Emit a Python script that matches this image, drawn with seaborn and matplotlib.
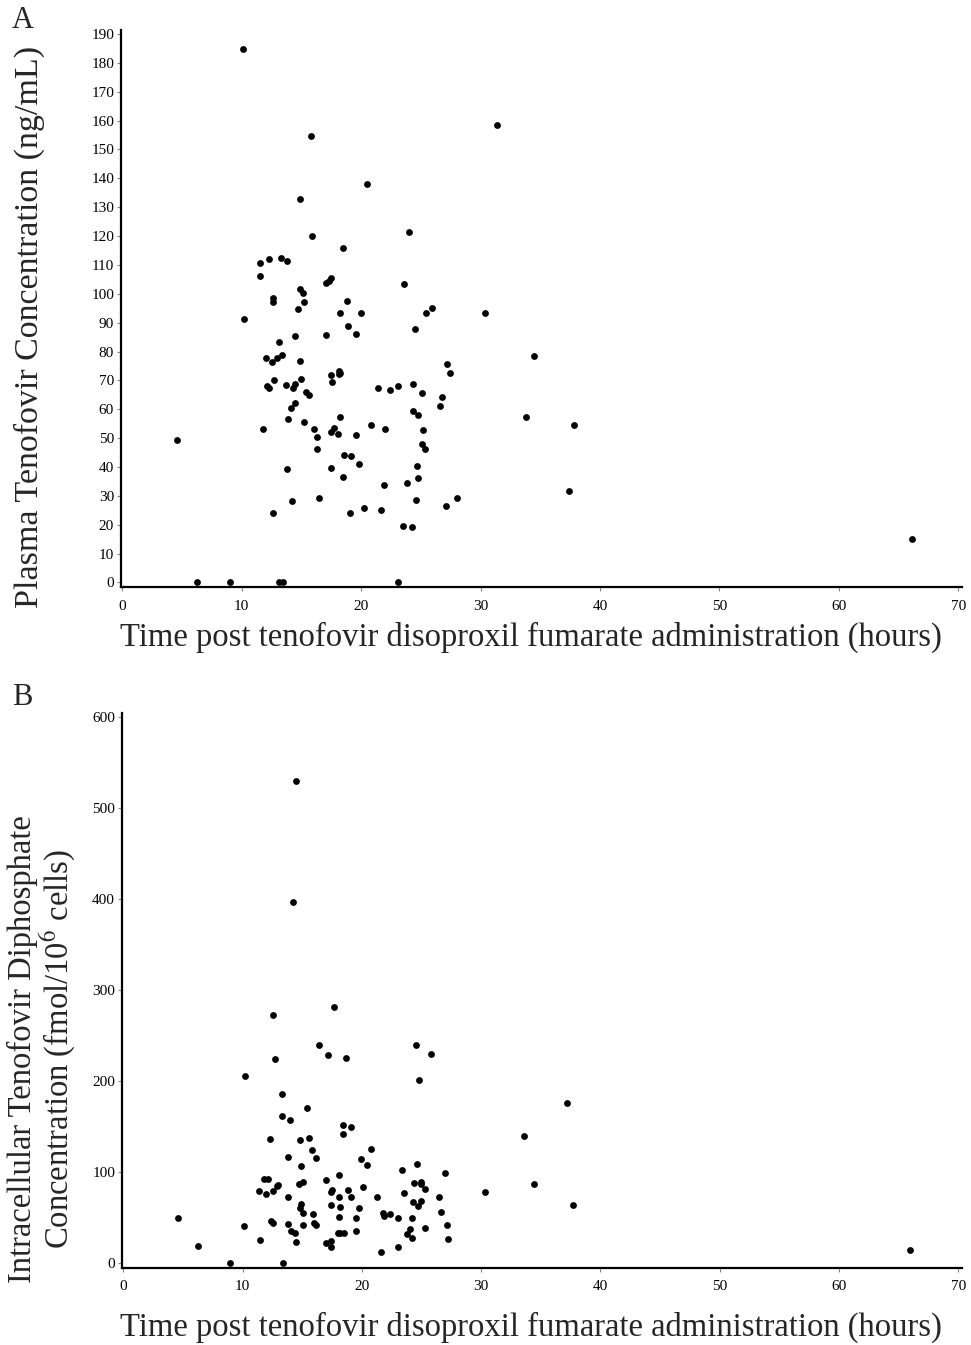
import numpy as np
import pandas as pd
import matplotlib
matplotlib.use("Agg")
import matplotlib.pyplot as plt
import seaborn as sns

# Panel A: plasma tenofovir concentration (ng/mL) vs time (h)
time_a = [10.1, 15.8, 31.4, 20.5, 14.85, 24.0, 15.9, 18.45, 11.5, 12.3, 13.3, 13.8,
          11.56, 17.1, 17.3, 17.5, 23.6, 14.85, 15.1, 18.8, 12.6, 12.6, 15.2, 14.7,
          10.2, 18.2, 20.0, 18.9, 17.1, 19.6, 14.5, 24.5, 13.1, 12.0, 12.95, 13.35,
          12.5, 14.85, 12.7, 12.1, 12.3, 13.7, 14.3, 14.5, 15.0, 15.4, 15.6, 17.5,
          17.6, 18.15, 18.2, 18.15, 21.4, 22.4, 23.1, 24.35, 14.1, 14.5, 24.35, 24.8,
          13.9, 15.2, 11.8, 18.2, 20.8, 16.05, 16.3, 17.45, 17.7, 18.05, 19.6, 22.0,
          4.6, 16.3, 18.6, 19.15, 19.85, 13.8, 17.45, 18.45, 21.9, 23.8, 24.7, 24.8,
          14.2, 16.5, 24.6, 12.6, 19.1, 20.2, 21.7, 23.5, 24.3,
          6.3, 9.0, 13.1, 13.45, 23.1,
          25.4, 25.9, 30.4, 34.5, 27.2, 27.4, 25.1, 26.75, 26.6, 33.8, 37.8, 25.15,
          25.1, 25.35, 37.4, 28.05, 27.1, 66.1]
conc_a = [184.9, 154.6, 158.5, 138.2, 133.0, 121.4, 120.0, 115.7, 110.6, 112.2, 112.4, 111.3,
          106.0, 103.6, 104.4, 105.3, 103.3, 101.5, 100.3, 97.4, 98.6, 97.1, 97.2, 94.8,
          91.1, 93.5, 93.3, 88.9, 85.8, 85.9, 85.4, 87.7, 83.2, 77.9, 77.9, 78.8,
          76.3, 76.7, 70.0, 68.1, 67.4, 68.4, 67.2, 68.9, 70.4, 65.9, 64.9, 71.8,
          69.5, 73.2, 72.7, 72.1, 67.2, 66.5, 68.2, 68.6, 60.3, 62.1, 59.5, 57.9,
          56.5, 55.7, 53.3, 57.3, 54.7, 53.3, 50.4, 52.0, 53.5, 51.4, 51.2, 53.0,
          49.4, 46.2, 44.1, 43.9, 40.9, 39.2, 39.5, 36.6, 33.6, 34.4, 40.3, 36.2,
          28.1, 29.1, 28.5, 24.0, 24.0, 25.9, 25.0, 19.7, 19.2,
          0.0, 0.0, 0.0, 0.0, 0.0,
          93.4, 95.2, 93.2, 78.4, 75.6, 72.7, 65.6, 64.4, 61.1, 57.4, 54.4, 52.8,
          47.8, 46.3, 31.6, 29.1, 26.4, 14.9]

# Panel B: intracellular tenofovir diphosphate (fmol/10^6 cells) vs time (h)
time_b = [14.46, 14.27, 12.54, 17.65, 16.4, 17.2, 18.7, 24.5, 25.8, 12.7, 10.2, 24.8,
          13.3, 15.4, 13.3, 14.0, 18.4, 19.07, 18.4, 12.3, 14.8, 15.6, 15.8, 16.2,
          20.75, 13.8, 19.9, 20.4, 14.9, 24.6, 23.4, 27.0, 11.76, 12.1, 17.0, 18.1,
          11.4, 12.0, 12.56, 12.9, 13.0, 14.7, 15.1, 13.85, 17.4, 17.5, 18.8, 18.1,
          19.07, 20.1, 21.3, 23.5, 24.35, 25.0, 25.0, 25.3, 26.5, 14.9, 14.8, 15.1,
          17.4, 18.2, 18.1, 19.8, 19.5, 15.9, 15.1, 16.0, 16.2, 13.8, 12.4, 12.56,
          21.8, 21.85, 22.4, 23.0, 24.2, 24.3, 24.7, 25.0, 26.6, 27.1, 27.25, 25.3,
          24.0, 23.8, 24.2, 23.0, 21.6, 19.55, 18.0, 18.2, 18.5, 17.0, 17.4, 17.4,
          14.1, 14.4, 14.46, 11.5, 10.1, 4.6, 6.3, 8.96, 13.4,
          37.2, 33.6, 34.4, 30.3, 37.7, 65.9]
conc_b = [529.8, 396.4, 272.0, 280.5, 239.0, 228.0, 224.4, 239.4, 228.8, 224.0, 205.3, 200.9,
          185.2, 169.7, 160.6, 156.2, 151.0, 149.2, 140.8, 135.3, 134.5, 137.1, 123.5, 115.1,
          125.0, 115.8, 114.0, 107.4, 105.6, 108.1, 101.9, 98.6, 91.6, 91.6, 90.9, 96.0,
          78.1, 75.5, 78.8, 83.9, 85.0, 86.5, 88.7, 71.8, 77.3, 79.2, 79.9, 72.2,
          71.8, 82.8, 72.2, 76.6, 86.9, 88.3, 86.5, 80.6, 71.8, 64.5, 59.7, 54.6,
          63.0, 61.2, 49.8, 60.1, 48.7, 53.5, 41.8, 43.2, 41.0, 42.5, 45.4, 43.2,
          54.6, 51.3, 53.1, 48.7, 49.1, 66.0, 61.6, 67.8, 55.3, 41.8, 25.6, 38.1,
          37.0, 31.5, 27.5, 17.2, 11.7, 34.8, 32.2, 32.2, 33.0, 22.0, 23.8, 17.2,
          34.4, 32.2, 22.3, 24.5, 40.3, 48.7, 18.7, 0.0, 0.0,
          174.9, 139.0, 86.5, 77.3, 62.7, 13.5]

x_ticks = [0, 10, 20, 30, 40, 50, 60, 70]
y_ticks_a = list(range(0, 191, 10))
y_ticks_b = [0, 100, 200, 300, 400, 500, 600]

xlabel = "Time post tenofovir disoproxil fumarate administration (hours)"
ylabel_a = "Plasma Tenofovir Concentration (ng/mL)"
ylabel_b = "Intracellular Tenofovir Diphosphate\nConcentration (fmol/10$^6$ cells)"

sns.set_style("ticks")
plt.rcParams['font.family'] = ['Liberation Serif', 'DejaVu Serif']
plt.rcParams['mathtext.fontset'] = 'stix'

df_a = pd.DataFrame({"time": time_a, "conc": conc_a})
df_b = pd.DataFrame({"time": time_b, "conc": conc_b})

W, H = 971, 1345
fig = plt.figure(figsize=(W / 100, H / 100), dpi=100)
ax_a = fig.add_axes([121 / W, 1 - 587 / H, (962 - 121) / W, (587 - 30) / H])
ax_b = fig.add_axes([122 / W, 1 - 1268 / H, (962 - 122) / W, (1268 - 713) / H])

for ax, df, yt, ylim, ylab, yfs in [
    (ax_a, df_a, y_ticks_a, (-1.6, 191.4), ylabel_a, 24.5),
    (ax_b, df_b, y_ticks_b, (-6, 604), ylabel_b, 23.5),
]:
    sns.scatterplot(data=df, x="time", y="conc", ax=ax, color="black",
                    s=24, linewidth=0, legend=False)
    ax.set_xlim(-0.1, 70.3)
    ax.set_ylim(*ylim)
    ax.set_xticks(x_ticks)
    ax.set_yticks(yt)
    ax.tick_params(axis="both", length=3, width=0.8, color="#888888",
                   labelsize=11, pad=2, labelcolor="black")
    ax.tick_params(axis="x", pad=6)
    for side in ["top", "right"]:
        ax.spines[side].set_visible(False)
    for side in ["left", "bottom"]:
        ax.spines[side].set_linewidth(1.6)
        ax.spines[side].set_color("black")
    ax.set_xlabel(xlabel, fontsize=23.5)
    ax.set_ylabel(ylab, fontsize=yfs, linespacing=1.0, ha="center", va="center")

ft = fig.transFigure
ax_a.xaxis.set_label_coords(531 / W, 1 - 637 / H, transform=ft)
ax_b.xaxis.set_label_coords(531 / W, 1 - 1327 / H, transform=ft)
ax_a.xaxis.label.set_va("center")
ax_b.xaxis.label.set_va("center")
ax_a.yaxis.set_label_coords(29 / W, 1 - 327 / H, transform=ft)
ax_b.yaxis.set_label_coords(43 / W, 1 - 1049 / H, transform=ft)

fig.text(12 / W, 1 - 21 / H, "A", fontsize=22, va="center", ha="left")
fig.text(12 / W, 1 - 697 / H, "B", fontsize=22, va="center", ha="left")

fig.savefig("out.png", dpi=100)
